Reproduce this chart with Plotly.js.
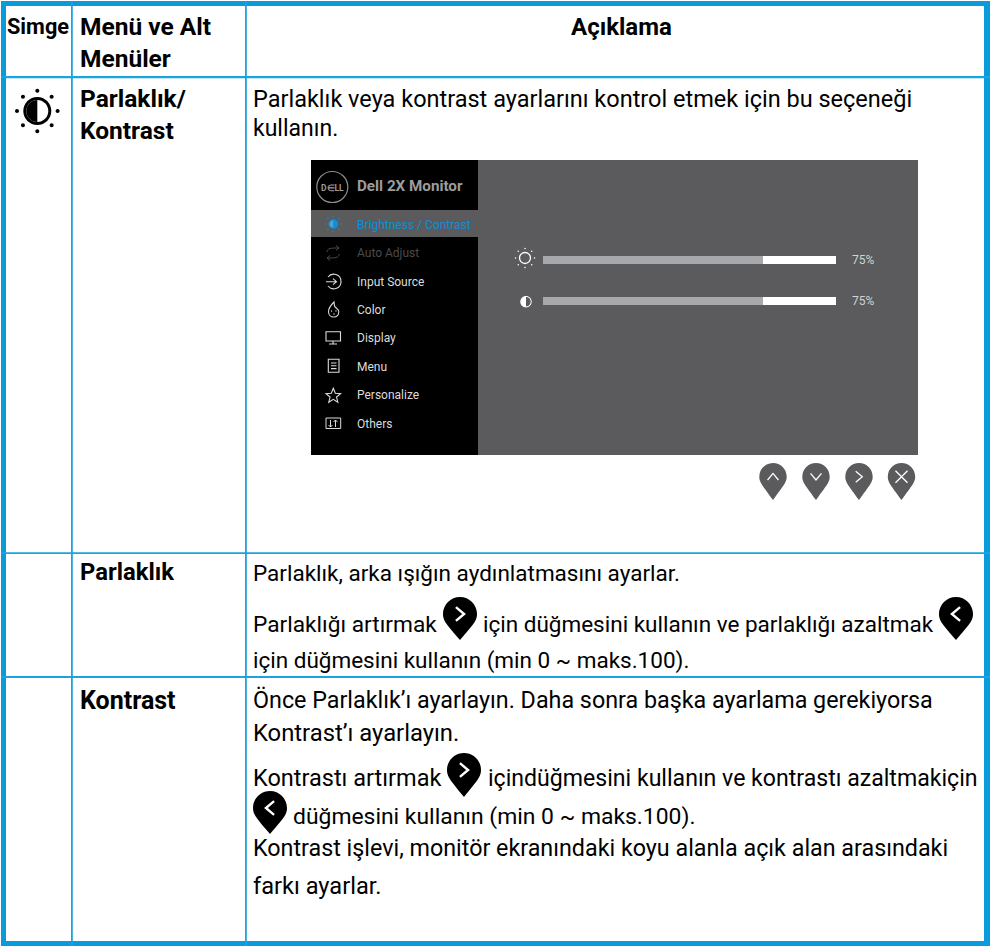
<!DOCTYPE html>
<html><head><meta charset="utf-8">
<script src="https://cdn.plot.ly/plotly-3.0.0.min.js"></script>
<style>html,body{margin:0;padding:0;background:#fff}#c{width:993px;height:946px}</style>
</head><body><div id="c"></div>
<script>
var headers = ['Simge','Menü ve Alt','Menüler','Açıklama'];
var menuNames = ['Parlaklık/','Kontrast','Parlaklık','Kontrast'];
var descriptions = [
 'Parlaklık veya kontrast ayarlarını kontrol etmek için bu seçeneği','kullanın.',
 'Parlaklık, arka ışığın aydınlatmasını ayarlar.',
 'Parlaklığı artırmak','için düğmesini kullanın ve parlaklığı azaltmak',
 'için düğmesini kullanın (min 0 ~ maks.100).',
 'Önce Parlaklık’ı ayarlayın. Daha sonra başka ayarlama gerekiyorsa','Kontrast’ı ayarlayın.',
 'Kontrastı artırmak','içindüğmesini kullanın ve kontrastı azaltmakiçin',
 'düğmesini kullanın (min 0 ~ maks.100).',
 'Kontrast işlevi, monitör ekranındaki koyu alanla açık alan arasındaki','farkı ayarlar.'];
var osdTitle = 'Dell 2X Monitor';
var osdMenu = ['Brightness / Contrast','Auto Adjust','Input Source','Color','Display','Menu','Personalize','Others'];
var sliderNames = ['Brightness','Contrast'];
var sliderValues = [75,75];

var BLUE='#0a9bdc', LINE='#1ba3e0', FONT='Roboto, sans-serif';
var shapes=[], notes=[];
function rect(x0,y0,x1,y1,c,layer){shapes.push({type:'rect',xref:'x',yref:'y',x0:x0,y0:y0,x1:x1,y1:y1,fillcolor:c,line:{width:0},layer:layer||'below'});}
function path(d,fill,stroke,w,layer){shapes.push({type:'path',xref:'x',yref:'y',path:d,fillcolor:fill||'rgba(0,0,0,0)',line:{color:stroke||'rgba(0,0,0,0)',width:w||0},layer:layer||'above'});}
function circ(cx,cy,r){var k=.5523*r;return 'M'+(cx-r)+','+cy+' C'+(cx-r)+','+(cy-k)+' '+(cx-k)+','+(cy-r)+' '+cx+','+(cy-r)+' C'+(cx+k)+','+(cy-r)+' '+(cx+r)+','+(cy-k)+' '+(cx+r)+','+cy+' C'+(cx+r)+','+(cy+k)+' '+(cx+k)+','+(cy+r)+' '+cx+','+(cy+r)+' C'+(cx-k)+','+(cy+r)+' '+(cx-r)+','+(cy+k)+' '+(cx-r)+','+cy+' Z';}
function halfRight(cx,cy,r){var k=.5523*r;return 'M'+cx+','+(cy-r)+' C'+(cx+k)+','+(cy-r)+' '+(cx+r)+','+(cy-k)+' '+(cx+r)+','+cy+' C'+(cx+r)+','+(cy+k)+' '+(cx+k)+','+(cy+r)+' '+cx+','+(cy+r)+' Z';}
function halfLeft(cx,cy,r){var k=.5523*r;return 'M'+cx+','+(cy-r)+' C'+(cx-k)+','+(cy-r)+' '+(cx-r)+','+(cy-k)+' '+(cx-r)+','+cy+' C'+(cx-r)+','+(cy+k)+' '+(cx-k)+','+(cy+r)+' '+cx+','+(cy+r)+' Z';}
function dots(cx,cy,R,r,c){for(var i=0;i<8;i++){var a=i*Math.PI/4;path(circ(cx+R*Math.cos(a),cy+R*Math.sin(a),r),c);}}
function pin(cx,top,tip,r,c,glyph,gc,gw){
  var cy=top+r,k=.5523*r,sx=r*.78,sy=cy+r*.62;
  path('M'+(cx-r)+','+cy+' C'+(cx-r)+','+(cy-k)+' '+(cx-k)+','+top+' '+cx+','+top+' C'+(cx+k)+','+top+' '+(cx+r)+','+(cy-k)+' '+(cx+r)+','+cy+' C'+(cx+r)+','+(cy+r*.4)+' '+(cx+sx)+','+sy+' '+cx+','+tip+' C'+(cx-sx)+','+sy+' '+(cx-r)+','+(cy+r*.4)+' '+(cx-r)+','+cy+' Z',c);
  var s=r*.4,d;
  if(glyph==='up')d='M'+(cx-s)+','+(cy+s*.6)+' L'+cx+','+(cy-s*.6)+' L'+(cx+s)+','+(cy+s*.6);
  if(glyph==='down')d='M'+(cx-s)+','+(cy-s*.6)+' L'+cx+','+(cy+s*.6)+' L'+(cx+s)+','+(cy-s*.6);
  if(glyph==='right')d='M'+(cx-s*.6)+','+(cy-s)+' L'+(cx+s*.6)+','+cy+' L'+(cx-s*.6)+','+(cy+s);
  if(glyph==='left')d='M'+(cx+s*.6)+','+(cy-s)+' L'+(cx-s*.6)+','+cy+' L'+(cx+s*.6)+','+(cy+s);
  if(glyph==='x'){s=r*.44;d='M'+(cx-s)+','+(cy-s)+' L'+(cx+s)+','+(cy+s)+' M'+(cx+s)+','+(cy-s)+' L'+(cx-s)+','+(cy+s);}
  path(d,null,gc,gw);
}
function text(t,x,y,size,color,bold,anchor,family){notes.push({text:bold?'<b>'+t+'</b>':t,x:anchor?x:x-2,y:y,xref:'x',yref:'y',showarrow:false,xanchor:anchor||'left',yanchor:'middle',font:{family:family||FONT,size:size,color:color||'#000'}});}

// table rules
rect(1,1,990,6,BLUE); rect(1,1,6,946,BLUE); rect(984,1,990,946,BLUE); rect(1,941,990,946,BLUE);
rect(71,1,72.8,946,LINE); rect(245,1,246.8,946,LINE);
rect(1,76,990,78.3,LINE); rect(1,552.3,990,554,LINE); rect(1,676,990,678,LINE);

// header + menu column
text(headers[0],7,26,21.7,'#000',true);
text(headers[1],80,26,24.5,'#000',true);
text(headers[2],80,58,24.5,'#000',true);
text(headers[3],621,27,24,'#000',true,'center');
text(menuNames[0],80,98,24.5,'#000',true);
text(menuNames[1],80,130,24.5,'#000',true);
text(menuNames[2],80,572,23.8,'#000',true);
text(menuNames[3],80,700,25,'#000',true);

// description column
var descPos=[[253,99,23.5],[253,128,23],[253,573,22.5],[253,624,22.7],[483,624,22.5],[253,660,22.5],[253,700,23.3],[253,733,23.8],[253,778,23.5],[488,778,23.1],[292.5,816,22.9],[253,848,23.3],[253,886,23.6]];
descriptions.forEach(function(t,i){text(t,descPos[i][0],descPos[i][1],descPos[i][2]);});

// row icon
path(circ(37.3,111,14),'#000'); path(circ(37.3,111,11),'#fff'); path(halfLeft(37.3,111,11),'#000');
dots(37.3,111,20.3,2,'#000');

// inline pins
pin(460,597,640,17,'#000','right','#fff',2.4);
pin(956,597,640,17,'#000','left','#fff',2.4);
pin(464,753,797,17,'#000','right','#fff',2.4);
pin(270,791,834,17,'#000','left','#fff',2.4);

// OSD panel
rect(311,160,478,455,'#000'); rect(478,160,918,455,'#5b5b5d'); rect(311,210,478,237,'#5b5b5d');
path(circ(332.3,187,15.5),null,'#8e8e8e',1.2);
text('D∈LL',332.3,187.5,8.5,'#9a9a9a',true,'center');
text(osdTitle,357,186,15.2,'#9c9c9c',true);
var menuY=[225,253,282,310,338,367,395,424];
var menuCol=['#0a90d8','#4a4a4c','#dcdcdc','#dcdcdc','#dcdcdc','#dcdcdc','#dcdcdc','#dcdcdc'];
osdMenu.forEach(function(t,i){text(t,357,menuY[i],12,menuCol[i]);});
var ic='#dcdcdc';
// brightness
path(circ(333.3,224,4.8),'#0a90d8'); path(halfLeft(333.3,224,3.6),'#5b9fd0'); dots(333.3,224,7.8,.8,'#0a90d8');
// auto adjust
path('M327,252 C327,248 331,248 339,248 M336,245.5 L339,248 L336,250.5 M339,254 C339,258 335,258 327,258 M330,255.5 L327,258 L330,260.5',null,'#4a4a4c',1);
// input
path('M328,277 C332,272 341,274 341,281.7 C341,289 332,291 328,286 M326,281.7 L336,281.7 M333,278.7 L336.5,281.7 L333,284.7',null,ic,1.1);
// color
path('M334,302 C331,305 328.5,308 328.5,311.5 C328.5,315 331,317 333.5,317 C336.5,317 338.8,315 338.8,311.5 C338.8,309 335.5,308.5 334.5,306 Z',null,ic,1.1);
path(circ(331.5,311,.7),ic); path(circ(334,314,.7),ic); path(circ(336,311,.7),ic);
// display
path('M326,331.7 L340.5,331.7 L340.5,341 L326,341 Z M333,341 L333,344 M329,344 L337,344',null,ic,1.1);
// menu
path('M328.3,359.3 L339,359.3 L339,372.3 L328.3,372.3 Z M331,363 L336.5,363 M331,365.8 L336.5,365.8 M331,368.6 L336.5,368.6',null,ic,1.1);
// star
(function(){var d='',cx=333.3,cy=396,i;for(i=0;i<10;i++){var r=i%2?3.4:7.7,a=-Math.PI/2+i*Math.PI/5;d+=(i?' L':'M')+(cx+r*Math.cos(a)).toFixed(2)+','+(cy+r*Math.sin(a)).toFixed(2);}path(d+' Z',null,ic,1.1);})();
// others
path('M326,418 L340.7,418 L340.7,428.5 L326,428.5 Z M330.5,420 L330.5,427 M328.5,425 L330.5,427 L332.5,425 M335.5,427 L335.5,420 M333.5,422 L335.5,420 L337.5,422',null,ic,1);

// sliders drawn as bars
var sliderY=[260,301];
var sun={x:525,y:258};
path(circ(sun.x,sun.y,5.5),null,'#fff',1.3); dots(sun.x,sun.y,9.5,.8,'#fff');
path(circ(526,301.7,5.7),'#fff'); path(halfRight(526,301.7,4.7),'#5b5b5d');
sliderValues.forEach(function(v,i){text(v+'%',852,sliderY[i],12,'#d2d2d2');});

// OSD buttons
[[773,'up'],[816,'down'],[859,'right'],[901.5,'x']].forEach(function(b){pin(b[0],463,500,13.7,'#5b5b5d',b[1],'#fff',1.3);});

var traces=[
 {type:'bar',orientation:'h',x:sliderValues,y:sliderY,width:8,xaxis:'x2',yaxis:'y',marker:{color:'#a7a8ab',line:{width:0}},hoverinfo:'skip',name:'value'},
 {type:'bar',orientation:'h',x:sliderValues.map(function(v){return 100-v;}),y:sliderY,width:8,xaxis:'x2',yaxis:'y',marker:{color:'#fff',line:{width:0}},hoverinfo:'skip',name:'rest'}
];
var hidden={visible:false,fixedrange:true};
Plotly.newPlot('c',traces,{
 width:993,height:946,margin:{l:0,r:0,t:0,b:0,pad:0},showlegend:false,barmode:'stack',
 paper_bgcolor:'#fff',plot_bgcolor:'rgba(0,0,0,0)',
 xaxis:Object.assign({range:[0,993],domain:[0,1]},hidden),
 yaxis:Object.assign({range:[946,0],domain:[0,1]},hidden),
 xaxis2:Object.assign({range:[0,100],domain:[543/993,836/993],anchor:'y'},hidden),
 shapes:shapes,annotations:notes
},{staticPlot:true,displayModeBar:false});
</script></body></html>
